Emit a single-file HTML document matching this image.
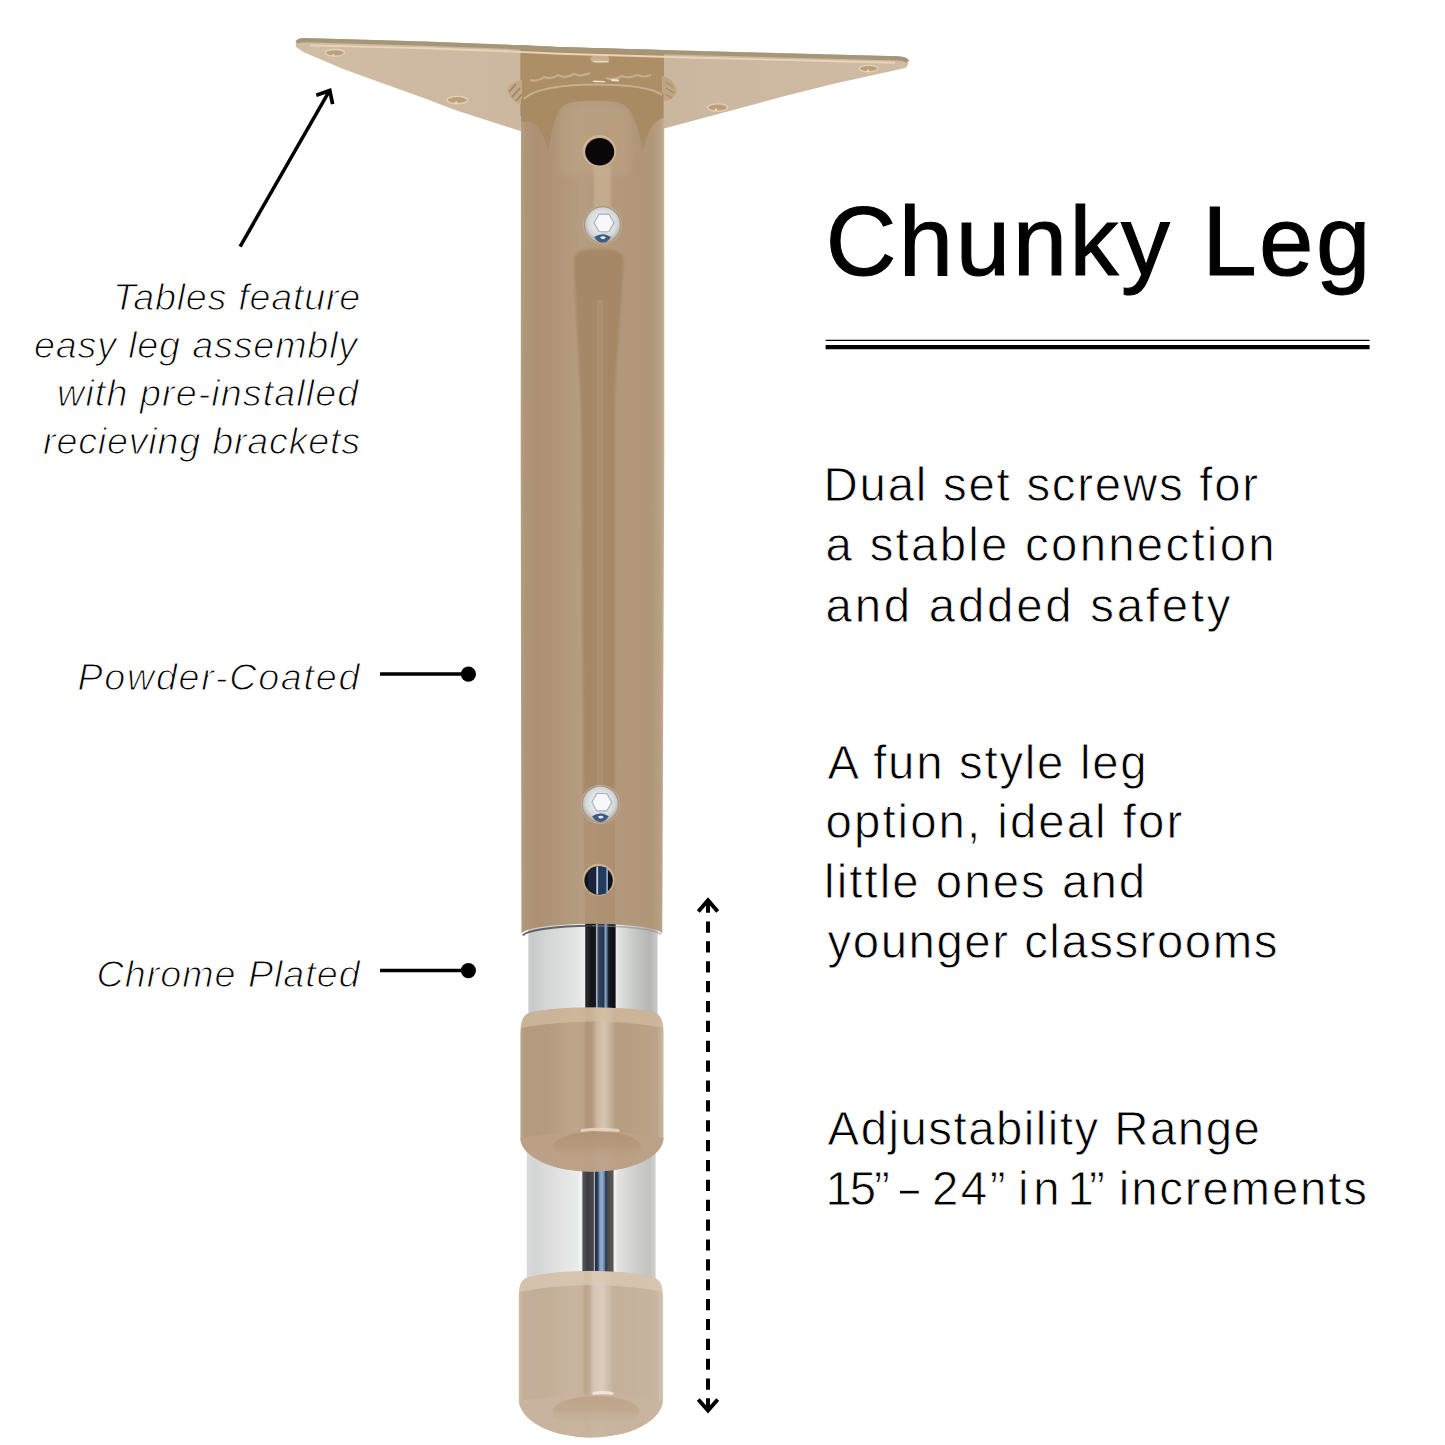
<!DOCTYPE html>
<html lang="en">
<head>
<meta charset="utf-8">
<title>Chunky Leg</title>
<style>
  html, body { margin: 0; padding: 0; background: #ffffff; }
  body { width: 1445px; height: 1445px; overflow: hidden; position: relative; }
  svg { position: absolute; left: 0; top: 0; display: block; }
  text { font-family: "Liberation Sans", sans-serif; fill: #000; }
  .title { font-size: 97.8px; stroke: #000; stroke-width: 1.1px; }
  .body { font-size: 47.4px; stroke: #fff; stroke-width: 0.8px; }
  .note { font-size: 37.7px; font-style: italic; fill: #000; stroke: #fff; stroke-width: 1.1px; }
</style>
</head>
<body>
<svg width="1445" height="1445" viewBox="0 0 1445 1445">
  <defs>
    <linearGradient id="gTube" x1="520" y1="0" x2="664" y2="0" gradientUnits="userSpaceOnUse">
      <stop offset="0" stop-color="#b89e83"/>
      <stop offset="0.04" stop-color="#b09477"/>
      <stop offset="0.12" stop-color="#ad9073"/>
      <stop offset="0.3" stop-color="#b2977a"/>
      <stop offset="0.42" stop-color="#b69c80"/>
      <stop offset="0.66" stop-color="#b3987b"/>
      <stop offset="0.9" stop-color="#b09578"/>
      <stop offset="0.975" stop-color="#b79f83"/>
      <stop offset="1" stop-color="#c6b197"/>
    </linearGradient>
    <linearGradient id="gChrome" x1="526.8" y1="0" x2="656.8" y2="0" gradientUnits="userSpaceOnUse">
      <stop offset="0.012" stop-color="#cccecd"/>
      <stop offset="0.04" stop-color="#c8cac9"/>
      <stop offset="0.14" stop-color="#d3d5d4"/>
      <stop offset="0.294" stop-color="#dddfde"/>
      <stop offset="0.409" stop-color="#e6e8e8"/>
      <stop offset="0.446" stop-color="#edeff0"/>
      <stop offset="0.453" stop-color="#2a2b30"/>
      <stop offset="0.50" stop-color="#131317"/>
      <stop offset="0.53" stop-color="#1a1c24"/>
      <stop offset="0.538" stop-color="#d5dfe9"/>
      <stop offset="0.548" stop-color="#33465f"/>
      <stop offset="0.59" stop-color="#26374f"/>
      <stop offset="0.605" stop-color="#86a3c2"/>
      <stop offset="0.615" stop-color="#5d7da0"/>
      <stop offset="0.63" stop-color="#141821"/>
      <stop offset="0.68" stop-color="#0c0d12"/>
      <stop offset="0.686" stop-color="#eef0f0"/>
      <stop offset="0.70" stop-color="#e3e5e4"/>
      <stop offset="0.794" stop-color="#cdcfcd"/>
      <stop offset="0.909" stop-color="#bbbcba"/>
      <stop offset="0.948" stop-color="#b5b6b4"/>
      <stop offset="1" stop-color="#c8c9c8"/>
    </linearGradient>
    <linearGradient id="gCap1" x1="520.4" y1="0" x2="663.6" y2="0" gradientUnits="userSpaceOnUse">
      <stop offset="0" stop-color="#bfa88e"/>
      <stop offset="0.03" stop-color="#b39a7e"/>
      <stop offset="0.2" stop-color="#b59c80"/>
      <stop offset="0.38" stop-color="#bfa68b"/>
      <stop offset="0.44" stop-color="#bca287"/>
      <stop offset="0.46" stop-color="#b0957a"/>
      <stop offset="0.505" stop-color="#b59b80"/>
      <stop offset="0.535" stop-color="#cdb8a2"/>
      <stop offset="0.585" stop-color="#d6c4b0"/>
      <stop offset="0.625" stop-color="#c9b49c"/>
      <stop offset="0.665" stop-color="#b79d82"/>
      <stop offset="0.8" stop-color="#b99f84"/>
      <stop offset="0.95" stop-color="#bba288"/>
      <stop offset="1" stop-color="#cbb9a4"/>
    </linearGradient>
    <linearGradient id="gCap2" x1="519" y1="0" x2="663.2" y2="0" gradientUnits="userSpaceOnUse">
      <stop offset="0" stop-color="#cdbcaa"/>
      <stop offset="0.03" stop-color="#c3af99"/>
      <stop offset="0.2" stop-color="#c3af98"/>
      <stop offset="0.38" stop-color="#c9b6a0"/>
      <stop offset="0.44" stop-color="#c7b39d"/>
      <stop offset="0.46" stop-color="#bca48b"/>
      <stop offset="0.49" stop-color="#c2ab94"/>
      <stop offset="0.515" stop-color="#d3c4b3"/>
      <stop offset="0.575" stop-color="#dbcdbe"/>
      <stop offset="0.615" stop-color="#cfbfad"/>
      <stop offset="0.655" stop-color="#c5b19b"/>
      <stop offset="0.8" stop-color="#c5b29c"/>
      <stop offset="0.95" stop-color="#c8b5a0"/>
      <stop offset="1" stop-color="#d3c4b2"/>
    </linearGradient>
    <linearGradient id="gChrome2" x1="527" y1="0" x2="656" y2="0" gradientUnits="userSpaceOnUse">
      <stop offset="0" stop-color="#dadada"/>
      <stop offset="0.062" stop-color="#d3d4d4"/>
      <stop offset="0.178" stop-color="#dcdddc"/>
      <stop offset="0.295" stop-color="#e4e5e4"/>
      <stop offset="0.395" stop-color="#eaecec"/>
      <stop offset="0.424" stop-color="#f3f5f7"/>
      <stop offset="0.433" stop-color="#55565b"/>
      <stop offset="0.47" stop-color="#3c3c41"/>
      <stop offset="0.515" stop-color="#4a4a4e"/>
      <stop offset="0.521" stop-color="#e8edf2"/>
      <stop offset="0.529" stop-color="#232c3b"/>
      <stop offset="0.55" stop-color="#2d3f58"/>
      <stop offset="0.56" stop-color="#6f8fb3"/>
      <stop offset="0.58" stop-color="#9ab5d2"/>
      <stop offset="0.60" stop-color="#6282a8"/>
      <stop offset="0.61" stop-color="#2a3a52"/>
      <stop offset="0.63" stop-color="#4e4d4c"/>
      <stop offset="0.668" stop-color="#5a5856"/>
      <stop offset="0.674" stop-color="#f5f7f7"/>
      <stop offset="0.705" stop-color="#e3e4e1"/>
      <stop offset="0.798" stop-color="#d5d6d3"/>
      <stop offset="0.915" stop-color="#c6c7c4"/>
      <stop offset="0.953" stop-color="#c3c4c1"/>
      <stop offset="0.995" stop-color="#cfcfcd"/>
    </linearGradient>
    <linearGradient id="gPlateL" x1="296" y1="0" x2="908" y2="0" gradientUnits="userSpaceOnUse">
      <stop offset="0" stop-color="#d0bda6"/>
      <stop offset="0.2" stop-color="#cebaa3"/>
      <stop offset="0.36" stop-color="#ccb8a1"/>
      <stop offset="0.61" stop-color="#cbb7a0"/>
      <stop offset="0.8" stop-color="#cdb9a2"/>
      <stop offset="1" stop-color="#d0bca5"/>
    </linearGradient>
    <linearGradient id="gFace1" x1="0" y1="0" x2="0" y2="1">
      <stop offset="0" stop-color="#b09275" stop-opacity="1"/>
      <stop offset="0.45" stop-color="#b4977a" stop-opacity="0.9"/>
      <stop offset="1" stop-color="#bca184" stop-opacity="0"/>
    </linearGradient>
    <linearGradient id="gFace2" x1="0" y1="0" x2="0" y2="1">
      <stop offset="0" stop-color="#bba186" stop-opacity="1"/>
      <stop offset="0.45" stop-color="#bea58b" stop-opacity="0.9"/>
      <stop offset="1" stop-color="#c6b19b" stop-opacity="0"/>
    </linearGradient>
    <filter id="soft" x="-20%" y="-5%" width="140%" height="110%"><feGaussianBlur stdDeviation="1.2"/></filter>
    <filter id="soft2" x="-20%" y="-20%" width="140%" height="140%"><feGaussianBlur stdDeviation="3"/></filter>
    <radialGradient id="gScrew" cx="0.5" cy="0.45" r="0.5">
      <stop offset="0" stop-color="#ffffff"/>
      <stop offset="0.5" stop-color="#e6e9ec"/>
      <stop offset="0.85" stop-color="#d3d6d9"/>
      <stop offset="1" stop-color="#bdb9b0"/>
    </radialGradient>
  </defs>

  <!-- ===== mounting plate ===== -->
  <g id="plate">
    <!-- plate silhouette (seen from below) -->
    <path d="M295.7,44.2 C296,40.6 299,38.4 304.4,38.1 L425,41.5 L500,44.3 L560,47 L680,50.4 L898,56.3 C904,56.6 908.2,58.6 908.3,62 C908.3,65.4 906.6,67.4 904.2,68.3 L835,83.6 L781,97.1 L664,128.6 L658,130 L658,90 L526,90 L526,133 L520.5,131 L456.5,110.6 L425,98.6 L381.9,83.1 L343.1,69.1 L304.4,52.6 L298,48.6 C296.3,47.4 295.6,46 295.7,44.2 Z" fill="url(#gPlateL)"/>
    <!-- weld zone above tube -->
    <path d="M520.3,45 L560,47 L664,50 L664,116 L520.3,116 Z" fill="#ad8f67"/>
    <!-- weld beads -->
    <path d="M507,90 C510,84 516,80 522,80 L522,104 C515,104 510,98 507,90 Z" fill="#c3a988"/>
    <path d="M662,76 C669,77 676,83 677,91 C675,98 669,101 662,101 Z" fill="#c0a583"/>
    <path d="M509,92 l7,-8 M512,97 l8,-9 M516,101 l6,-7" stroke="#9c8263" stroke-width="1.3" fill="none"/>
    <path d="M666,82 l7,5 M666,88 l8,5 M665,94 l7,4" stroke="#a58a69" stroke-width="1.2" fill="none"/>
    <path d="M530,80 q8,2 14,-3 q8,3 14,-2 q8,4 16,-1 q8,3 16,-1 M606,78 q9,3 16,-2 q8,3 15,-1 q7,3 14,0" stroke="#cdb596" stroke-width="2.2" fill="none" opacity="0.8"/>
    <path d="M592,56 q8,-2 16,0 q3,4 -1,6 q-8,2 -15,0 q-3,-3 0,-6 Z" fill="#c9b08e"/>
    <path d="M594,61.5 l14,0.3" stroke="#e8d8bf" stroke-width="1.6" stroke-linecap="round"/>
    <path d="M594,81.5 l10,0.5 M612,80 l6,0.5" stroke="#efe2cc" stroke-width="2" stroke-linecap="round"/>
    <!-- rim (plate thickness) and highlight -->
    <path d="M297.2,42.6 C298.5,40.6 301,40.2 304.4,40.2 L425,43.6 L500,46.5 L560,49.3 L680,52.7 L898,58.4 C903,58.7 906.3,59.8 907.4,61.6" stroke="#a59678" stroke-width="4.2" fill="none"/>
    <path d="M310,45.4 L425,48.3 L500,51 L560,53.8 L680,57.2 L895,62.8" stroke="#e8d5b9" stroke-width="1.9" fill="none"/>
    <!-- countersunk holes -->
    <g fill="#bb9f78" stroke="#e2d0b7" stroke-width="1.4">
      <ellipse cx="334.9" cy="52.8" rx="9.6" ry="3.3"/>
      <ellipse cx="457.3" cy="100.1" rx="10.3" ry="3.7"/>
      <ellipse cx="717.6" cy="107.5" rx="10" ry="3.6"/>
      <ellipse cx="868.6" cy="68.6" rx="9.3" ry="3.2"/>
    </g>
    <g fill="#f3e6cf">
      <circle cx="333.3" cy="55" r="1.1"/><circle cx="456.2" cy="102.4" r="1.1"/><circle cx="716" cy="109.6" r="1.1"/><circle cx="868" cy="70.6" r="1.1"/>
    </g>
  </g>

  <!-- ===== chrome inner tube ===== -->
  <rect x="528.3" y="905" width="129.3" height="115" fill="url(#gChrome)"/>
  <rect x="526.8" y="1130" width="128.8" height="160" fill="url(#gChrome2)"/>
  <!-- shadow line cast by outer tube on chrome -->
  <path d="M523,935.5 A70.5,10.5 0 0 1 592,925.8" stroke="#3b3b40" stroke-width="2" fill="none" opacity="0.75"/>
  <path d="M592,925.8 A70.5,10.5 0 0 1 661,934.5" stroke="#8d8d90" stroke-width="1.5" fill="none" opacity="0.6"/>

  <!-- ===== outer powder coated tube ===== -->
  <path d="M521,100 C530,87 566,82.5 595,82.5 C624,82.5 655,86 664.2,94 L664.3,450 L662.3,934 A70.45,10.5 0 0 0 521.4,934.5 L520.7,450 Z" fill="url(#gTube)"/>
  <!-- dark reflection band below the first screw -->
  <path filter="url(#soft)" d="M574,262 C574,252 580,249 598,249 C616,249 623.5,252 623.5,262 C622,300 616,360 614.7,410 L614.7,800 L583.5,800 L581,410 C579,360 575,300 574,262 Z" fill="#a28462" opacity="0.8"/>
  <path d="M597,300 L603,300 L603,921 L597,921 Z" fill="#b39779" opacity="0.5"/>
  <path d="M583.5,800 L614.7,800 L615,924 L585,924 Z" fill="#a28462" opacity="0.35"/>
  <!-- collar reflections at top of tube -->
  <path d="M521,100 C530,87 566,82.5 595,82.5 C624,82.5 655,86 663.6,94 L663.6,118 C658,119 652,124 648,134 C646,140 644,146 642,149 C640,135 636,118 628,108 C622,101.5 612,101 595,101 C578,101 566,101.5 561,108 C553,118 551,138 548.7,150 C546,144 543,136 540,130 C536,123 528,121 521,122 Z" fill="#a98b63"/>
  <path filter="url(#soft2)" d="M562,112 C567,104 580,103.5 595,103.5 C610,103.5 622,104 627,112 C630,125 631,150 630,175 L560,175 C559,150 559,125 562,112 Z" fill="#c0a787" opacity="0.4"/>
  <path d="M524,99 C534,88.5 566,84.5 595,84.5 C624,84.5 652,87.5 662,95" stroke="#cbb393" stroke-width="2" fill="none" opacity="0.9"/>
  <!-- lighter strip between hole and screw -->
  <rect filter="url(#soft)" x="594" y="166" width="17" height="44" fill="#c8b091" opacity="0.8"/>
  <!-- adjustment hole (top) -->
  <ellipse cx="599.4" cy="151" rx="16.8" ry="16" fill="#cdb596"/>
  <ellipse cx="599.7" cy="151.7" rx="14.5" ry="13.8" fill="#0b0708"/>
  <!-- screw 1 -->
  <g transform="translate(602.6,224.9)">
    <circle r="19.6" fill="#c6ad8f"/>
    <circle r="18.6" fill="#8c8176" opacity="0.75"/>
    <circle r="17.7" fill="url(#gScrew)"/>
    <path d="M-8.6,-2.1 L-3.6,-10.8 L6.4,-10.8 L11.4,-2.1 L6.4,6.6 L-3.6,6.6 Z" fill="#f6f8fa" stroke="#a3abb4" stroke-width="1.1"/>
    <path d="M-3.6,6.6 L6.4,6.6 L3,10 L0,10 Z" fill="#c9d0d8"/>
    <path d="M-8.4,12 Q0,6.6 8.4,12 Q5,17.6 0,17.6 Q-5,17.6 -8.4,12 Z" fill="#3d5a85"/>
    <path d="M-2.6,12.4 Q0.4,10.4 3.4,12.6 Q0.4,16 -2.6,12.4 Z" fill="#e8eef6"/>
  </g>
  <!-- screw 2 -->
  <g transform="translate(600.4,804.3)">
    <circle r="19.6" fill="#c6ad8f"/>
    <circle r="18.6" fill="#8c8176" opacity="0.75"/>
    <circle r="17.7" fill="url(#gScrew)"/>
    <path d="M-8.6,-2.1 L-3.6,-10.8 L6.4,-10.8 L11.4,-2.1 L6.4,6.6 L-3.6,6.6 Z" fill="#f6f8fa" stroke="#a3abb4" stroke-width="1.1"/>
    <path d="M-3.6,6.6 L6.4,6.6 L3,10 L0,10 Z" fill="#c9d0d8"/>
    <path d="M-8.4,12 Q0,6.6 8.4,12 Q5,17.6 0,17.6 Q-5,17.6 -8.4,12 Z" fill="#3d5a85"/>
    <path d="M-2.6,12.4 Q0.4,10.4 3.4,12.6 Q0.4,16 -2.6,12.4 Z" fill="#e8eef6"/>
  </g>
  <!-- lower hole showing chrome -->
  <g>
    <circle cx="598.6" cy="879.8" r="16" fill="#cbb293"/>
    <circle cx="598.6" cy="880.5" r="14.2" fill="#0f131d"/>
    <path d="M588,871 L596.3,867 L596.3,894 L588,890 Z" fill="#19233a"/>
    <path d="M596.3,866.8 L598.4,866.6 L598.4,894.4 L596.3,894.2 Z" fill="#c3d0de"/>
    <path d="M598.4,866.6 L606.2,867.4 L606.2,893.6 L598.4,894.4 Z" fill="#243a5e"/>
    <path d="M606.2,867.4 L608,868.2 L608,892.8 L606.2,893.6 Z" fill="#8fa6c2"/>
  </g>

  <!-- ===== caps ===== -->
  <clipPath id="clipCap1"><path d="M520.4,1034 C520.6,1024 522,1017 527,1014 C533,1010.5 560,1007.4 592,1007.4 C624,1007.4 651,1010.5 657,1014 C662,1017 663.4,1024 663.6,1034 L663.5,1139 A71.6,34 0 0 1 520.4,1139 Z"/></clipPath>
  <g clip-path="url(#clipCap1)">
    <rect x="515" y="1000" width="155" height="180" fill="url(#gCap1)"/>
    <!-- lighter rim band -->
    <path d="M515,1000 L670,1000 L670,1029 Q592,1014 515,1029 Z" fill="#d3bda1" opacity="0.7"/>
    <!-- dome underside -->
    <path d="M515,1139 Q592,1124 670,1139 L670,1180 L515,1180 Z" fill="#bba186" opacity="0.9"/>
    <ellipse cx="597" cy="1147" rx="44" ry="15.5" fill="url(#gFace1)" opacity="0.85"/>
    <path d="M582,1130.6 Q600,1128 618,1130.6" stroke="#e6d5c0" stroke-width="3" fill="none" stroke-linecap="round" opacity="0.9"/>
  </g>

  <clipPath id="clipCap2"><path d="M518.8,1297 C519,1288 520,1282 524.5,1279 C531,1275 560,1270.9 591,1270.9 C622,1270.9 650,1275 656.5,1279 C661.5,1282 662.8,1288 663,1297 L663,1399 A72.1,38.4 0 0 1 518.8,1399 Z"/></clipPath>
  <g clip-path="url(#clipCap2)">
    <rect x="514" y="1265" width="155" height="180" fill="url(#gCap2)"/>
    <path d="M514,1265 L669,1265 L669,1293 Q591,1277 514,1293 Z" fill="#dccbb5" opacity="0.7"/>
    <path d="M514,1402 Q591,1387 669,1402 L669,1445 L514,1445 Z" fill="#c8b49e" opacity="0.9"/>
    <ellipse cx="596" cy="1411.5" rx="43.5" ry="15.5" fill="url(#gFace2)" opacity="0.85"/>
    <path d="M594,1393.4 Q603,1391.6 612,1393.4" stroke="#f1e6d8" stroke-width="3" fill="none" stroke-linecap="round" opacity="0.95"/>
  </g>

  <!-- ===== annotation graphics ===== -->
  <g stroke="#000" fill="none">
    <!-- arrow to plate -->
    <path d="M240.1,246.6 L329.4,90.8" stroke-width="3.5"/>
    <path d="M316.3,95.2 L329.8,90.4 L332.6,104.2" stroke-width="3.7"/>
    <!-- call-out lines -->
    <path d="M380,674 L466,674" stroke-width="3.7"/>
    <path d="M380,970.5 L466,970.5" stroke-width="3.7"/>
    <!-- dashed range arrow -->
    <path d="M708,921.5 L708,1390" stroke-width="4" stroke-dasharray="11.2 8.67"/>
    <path d="M708,899.5 L708,912.8 M708,1398.3 L708,1411" stroke-width="4"/>
    <path d="M698.3,911.5 L708,900.2 L717.7,911.5" stroke-width="4"/>
    <path d="M698.3,1399.5 L708,1410.5 L717.7,1399.5" stroke-width="4"/>
    <!-- double rule -->
    <path d="M825.6,340.3 L1369.6,340.3" stroke-width="1.2"/>
    <path d="M825.6,347.2 L1369.6,347.2" stroke-width="4.2"/>
  </g>
  <circle cx="468.4" cy="674.1" r="7.6" fill="#000"/>
  <circle cx="468.4" cy="970.6" r="7.6" fill="#000"/>

  <!-- ===== text ===== -->
  <text class="title" x="825.7" y="275" textLength="544.7">Chunky Leg</text>

  <text class="body" x="823.6" y="501.2" textLength="434.5">Dual set screws for</text>
  <text class="body" x="825.6" y="561.4" textLength="449.0">a stable connection</text>
  <text class="body" x="825.6" y="621.7" textLength="404.9">and added safety</text>

  <text class="body" x="827.6" y="778.7" textLength="319.1">A fun style leg</text>
  <text class="body" x="825.6" y="838.2" textLength="356.6">option, ideal for</text>
  <text class="body" x="824.1" y="898.2" textLength="321.1">little ones and</text>
  <text class="body" x="827.6" y="958.2" textLength="449.8">younger classrooms</text>

  <text class="body" x="827.6" y="1144.9" textLength="432.3">Adjustability Range</text>
  <text class="body" y="1205.4"><tspan x="825.4" textLength="64.4">15”</tspan> <tspan x="895.5" textLength="27.8" lengthAdjust="spacingAndGlyphs">-</tspan> <tspan x="932" textLength="73.5">24”</tspan> <tspan x="1018" textLength="41.5">in</tspan> <tspan x="1067.6" textLength="37.1">1”</tspan> <tspan x="1118.8" textLength="248.1">increments</tspan></text>

  <text class="note" x="360.2" y="310.3" text-anchor="end" textLength="247.3">Tables feature</text>
  <text class="note" x="357.2" y="358.4" text-anchor="end" textLength="323.3">easy leg assembly</text>
  <text class="note" x="358.2" y="406.2" text-anchor="end" textLength="301.1">with pre-installed</text>
  <text class="note" x="360.2" y="454.3" text-anchor="end" textLength="317.1">recieving brackets</text>
  <text class="note" x="359.4" y="690.3" text-anchor="end" textLength="282.0">Powder-Coated</text>
  <text class="note" x="359.6" y="986.7" text-anchor="end" textLength="263.0">Chrome Plated</text>
</svg>
</body>
</html>
